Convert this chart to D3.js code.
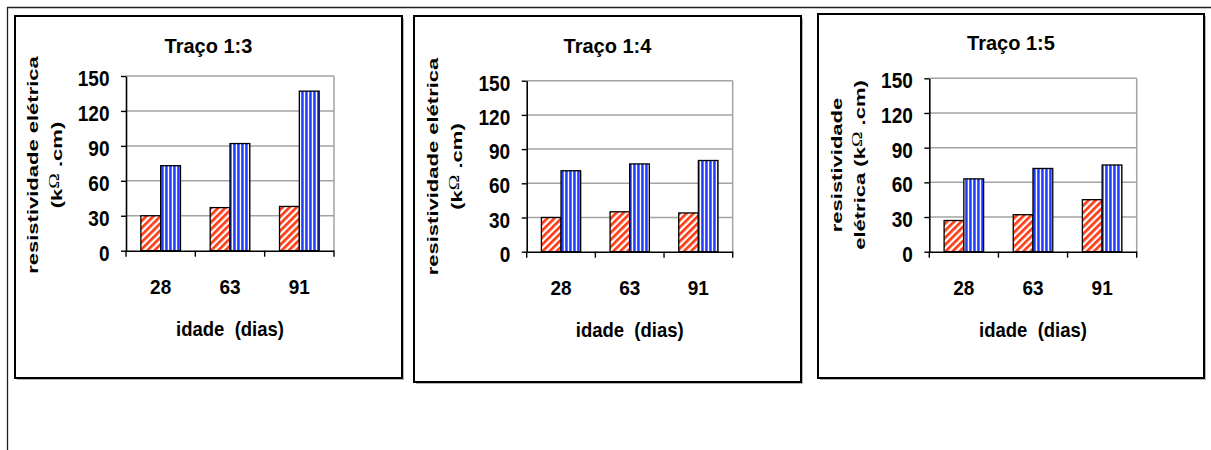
<!DOCTYPE html>
<html>
<head>
<meta charset="utf-8">
<script src="https://cdn.jsdelivr.net/npm/d3@7"></script>
<style>
  html, body { margin: 0; padding: 0; background: #fff; }
  svg { display: block; }
  text { font-family: "Liberation Sans", Arial, sans-serif; font-weight: bold; fill: #000; white-space: pre; }
</style>
</head>
<body>
<script>
// Resistividade elétrica por idade, três traços
const titulos = ["Traço 1:3", "Traço 1:4", "Traço 1:5"];
const idades = ["28", "63", "91"];
const yTicks = [0, 30, 60, 90, 120, 150];
const serieHachurada = [[30, 37, 38], [30, 35, 34], [27, 32, 45]];
const serieListrada = [[73, 92, 137], [71, 77, 80], [63, 72, 75]];
const tituloX = "idade  (dias)";
const titulosY = [
  ["resistividade elétrica", "(kΩ .cm)"],
  ["resistividade elétrica", "(kΩ .cm)"],
  ["resistividade", "elétrica (kΩ .cm)"]
];

// Panel geometry: frame box, plot area, title baseline, y-title baselines
const paineis = [
  { box: [15, 16, 402, 378], plot: [126, 76, 334, 250.7], titleY: 52.7, yLines: [37.7, 62.4], yMid: 165 },
  { box: [414, 16, 801, 382], plot: [526.7, 80.7, 732.7, 251.7], titleY: 52.7, yLines: [438.3, 461.7], yMid: 166.5 },
  { box: [818, 14, 1204, 378], plot: [929.3, 78.3, 1136.7, 251.7], titleY: 50, yLines: [841.7, 865], yMid: 165 }
];

const W = 1211, H = 450;
const corHach = "#ff3a12", corList = "#1e3cff", corGrade = "#a3a3a3";

const svg = d3.select("body").append("svg").attr("width", W).attr("height", H);
svg.append("rect").attr("width", W).attr("height", H).attr("fill", "#fff");

const defs = svg.append("defs");
const ph = defs.append("pattern").attr("id", "hach").attr("patternUnits", "userSpaceOnUse")
  .attr("width", 5).attr("height", 5).attr("patternTransform", "rotate(45)");
ph.append("rect").attr("width", 5).attr("height", 5).attr("fill", "#fff");
ph.append("rect").attr("width", 2.7).attr("height", 5).attr("fill", corHach);
const pl = defs.append("pattern").attr("id", "list").attr("patternUnits", "userSpaceOnUse")
  .attr("width", 4).attr("height", 4);
pl.append("rect").attr("width", 4).attr("height", 4).attr("fill", "#fff");
pl.append("rect").attr("x", 1.2).attr("width", 2.5).attr("height", 4).attr("fill", corList);

// outer page frame
svg.append("line").attr("x1", 7).attr("x2", W).attr("y1", 7.5).attr("y2", 7.5).attr("stroke", "#222").attr("stroke-width", 1.3);
svg.append("line").attr("x1", 7.5).attr("x2", 7.5).attr("y1", 7).attr("y2", H).attr("stroke", "#222").attr("stroke-width", 1.3);

function linhaComOmega(text, str) {
  const parts = str.split("Ω");
  text.append("tspan").text(parts[0]);
  if (parts.length > 1) {
    text.append("tspan").attr("font-weight", "normal").attr("font-family", "Liberation Serif, serif")
      .attr("font-size", "0.95em").attr("dy", -3).text("Ω");
    text.append("tspan").attr("dy", 3).text(parts[1]);
  }
}

paineis.forEach((p, i) => {
  const [bx0, by0, bx1, by1] = p.box;
  const [px0, py0, px1, py1] = p.plot;
  const g = svg.append("g");

  // frame with soft shadow
  g.append("rect").attr("x", bx0 + 2).attr("y", by0 + 2).attr("width", bx1 - bx0).attr("height", by1 - by0)
    .attr("fill", "#b5b5b5");
  g.append("rect").attr("x", bx0).attr("y", by0).attr("width", bx1 - bx0).attr("height", by1 - by0)
    .attr("fill", "#fff").attr("stroke", "#000").attr("stroke-width", 2);

  const y = d3.scaleLinear().domain([0, 150]).range([py1, py0]);
  const x = d3.scaleBand().domain(idades).range([px0, px1]).paddingInner(1.5 / 3.5).paddingOuter(0.75 / 3.5);
  const xs = d3.scaleBand().domain(["a", "b"]).range([0, x.bandwidth()]);

  // gridlines and plot border (gray)
  g.append("g").selectAll("line").data(yTicks.filter(t => t > 0)).join("line")
    .attr("x1", px0).attr("x2", px1).attr("y1", d => y(d)).attr("y2", d => y(d))
    .attr("stroke", corGrade).attr("stroke-width", 1.5);
  g.append("line").attr("x1", px1).attr("x2", px1).attr("y1", py0).attr("y2", py1)
    .attr("stroke", corGrade).attr("stroke-width", 1.5);

  // bars
  const bars = g.append("g");
  idades.forEach((c, j) => {
    const v1 = serieHachurada[i][j], v2 = serieListrada[i][j];
    bars.append("rect").attr("x", x(c) + xs("a")).attr("y", y(v1)).attr("width", xs.bandwidth())
      .attr("height", y(0) - y(v1)).attr("fill", "url(#hach)").attr("stroke", "#000").attr("stroke-width", 1.3);
    bars.append("rect").attr("x", x(c) + xs("b")).attr("y", y(v2)).attr("width", xs.bandwidth())
      .attr("height", y(0) - y(v2)).attr("fill", "url(#list)").attr("stroke", "#000").attr("stroke-width", 1.3);
  });

  // y axis
  const ay = g.append("g").attr("transform", `translate(${px0},0)`)
    .call(d3.axisLeft(y).tickValues(yTicks).tickSize(5).tickSizeOuter(0));
  ay.select(".domain").attr("stroke", "#000").attr("stroke-width", 1.6);
  ay.selectAll(".tick line").attr("stroke", "#000").attr("stroke-width", 1.4);
  ay.selectAll(".tick text").attr("x", null).attr("dy", null)
    .attr("transform", "translate(-16.5,9.5) scale(1,1.15)")
    .attr("font-size", 19).attr("font-family", null);

  // x axis: labels at band centers, ticks at category boundaries
  const ax = g.append("g").attr("transform", `translate(0,${py1})`)
    .call(d3.axisBottom(x).tickSize(0));
  ax.select(".domain").attr("stroke", "#000").attr("stroke-width", 1.6);
  ax.selectAll(".tick text").attr("y", null).attr("dy", null)
    .attr("transform", "translate(0,43.5) scale(1,1.1)")
    .attr("font-size", 19).attr("font-family", null);
  const limites = d3.range(idades.length + 1).map(k => px0 + k * x.step());
  ax.append("g").selectAll("line").data(limites).join("line")
    .attr("x1", d => d).attr("x2", d => d).attr("y1", 0).attr("y2", 6)
    .attr("stroke", "#000").attr("stroke-width", 1.4);

  // titles
  g.append("text").attr("text-anchor", "middle")
    .attr("transform", `translate(${(bx0 + bx1) / 2},${p.titleY}) scale(1,1.05)`)
    .attr("font-size", 20).text(titulos[i]);
  g.append("text").attr("text-anchor", "middle")
    .attr("transform", `translate(${(px0 + px1) / 2},${py1 + 85}) scale(1,1.12)`)
    .attr("font-size", 18.5).text(tituloX);
  titulosY[i].forEach((ln, k) => {
    const t = g.append("text").attr("text-anchor", "middle").attr("font-size", 15.5)
      .attr("transform", `translate(${p.yLines[k]},${p.yMid}) rotate(-90) scale(1.42,1)`);
    linhaComOmega(t, ln);
  });
});
</script>
</body>
</html>
